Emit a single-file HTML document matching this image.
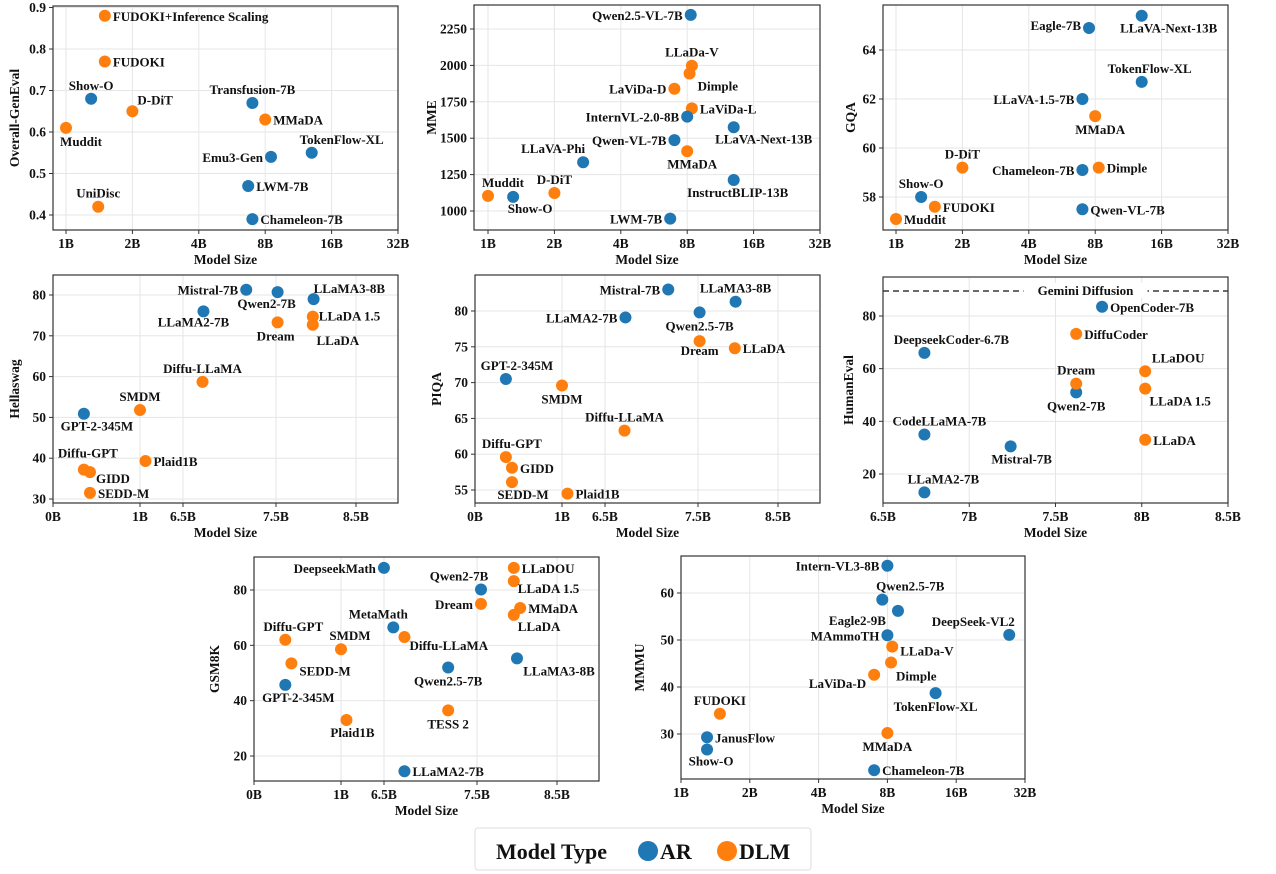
<!DOCTYPE html>
<html><head><meta charset="utf-8">
<style>
html,body{margin:0;padding:0;background:#fff;}
svg{display:block;font-family:"Liberation Serif",serif;font-weight:bold;}
</style></head>
<body>
<svg id="chart" width="1276" height="874" viewBox="0 0 1276 874" xmlns="http://www.w3.org/2000/svg">
<g>
<rect x="475" y="828" width="336" height="42" rx="3" fill="#fff" stroke="#ddd" stroke-width="1"/>
<text x="496" y="859" font-size="22" fill="#111">Model Type</text>
<circle cx="648" cy="851" r="10" fill="#1f77b4"/>
<text x="660" y="859" font-size="22" fill="#111">AR</text>
<circle cx="727" cy="851" r="10" fill="#ff7f0e"/>
<text x="739" y="859" font-size="22" fill="#111">DLM</text>
</g>
</svg>
<script>
// ---------- DATA ----------
const p1Names=["FUDOKI+Inference Scaling","FUDOKI","Show-O","D-DiT","Muddit","UniDisc","Transfusion-7B","MMaDA","Emu3-Gen","TokenFlow-XL","LWM-7B","Chameleon-7B"];
const p1Sizes=[1.5,1.5,1.3,2.0,1.0,1.4,7.0,8.0,8.5,13,6.7,7.0];
const p1Scores=[0.88,0.77,0.68,0.65,0.61,0.42,0.67,0.63,0.54,0.55,0.47,0.39];
const p1Types=["D","D","A","D","D","D","A","D","A","A","A","A"];
const p1YTicks=[0.4,0.5,0.6,0.7,0.8,0.9];

const p2Names=["Qwen2.5-VL-7B","LLaDa-V","Dimple","LaViDa-D","LaViDa-L","InternVL-2.0-8B","LLaVA-Next-13B","Qwen-VL-7B","MMaDA","LLaVA-Phi","InstructBLIP-13B","Muddit","Show-O","D-DiT","LWM-7B"];
const p2Sizes=[8.3,8.4,8.2,7.0,8.4,8.0,13,7.0,8.0,2.7,13,1.0,1.3,2.0,6.7];
const p2Scores=[2347,1998,1944,1840,1705,1648,1575,1487,1410,1335,1213,1104,1097,1124,948];
const p2Types=["A","D","D","D","D","A","A","A","D","A","A","D","A","D","A"];
const p2YTicks=[1000,1250,1500,1750,2000,2250];

const p3Names=["Eagle-7B","LLaVA-Next-13B","TokenFlow-XL","LLaVA-1.5-7B","MMaDA","D-DiT","Chameleon-7B","Dimple","Show-O","FUDOKI","Muddit","Qwen-VL-7B"];
const p3Sizes=[7.5,13,13,7.0,8.0,2.0,7.0,8.3,1.3,1.5,1.0,7.0];
const p3Scores=[64.9,65.4,62.7,62.0,61.3,59.2,59.1,59.2,58.0,57.6,57.1,57.5];
const p3Types=["A","A","A","A","D","D","A","D","A","D","D","A"];
const p3YTicks=[58,60,62,64];

const p4Names=["Mistral-7B","Qwen2-7B","LLaMA3-8B","LLaDA 1.5","Dream","LLaDA","LLaMA2-7B","Diffu-LLaMA","SMDM","GPT-2-345M","Diffu-GPT","Plaid1B","GIDD","SEDD-M"];
const p4Sizes=[7.18,7.52,7.97,7.96,7.52,7.96,6.72,6.71,1.0,0.355,0.355,1.7,0.425,0.425];
const p4Scores=[81.3,80.7,79.0,74.7,73.3,72.7,76.0,58.7,51.8,50.9,37.2,39.3,36.6,31.5];
const p4Types=["A","A","A","D","D","D","A","D","D","A","D","D","D","D"];
const p4YTicks=[30,40,50,60,70,80];

const p5Names=["Mistral-7B","LLaMA3-8B","Qwen2.5-7B","LLaMA2-7B","Dream","LLaDA","GPT-2-345M","SMDM","Diffu-LLaMA","Diffu-GPT","GIDD","SEDD-M","Plaid1B"];
const p5Sizes=[7.18,7.97,7.52,6.72,7.52,7.96,0.355,1.0,6.71,0.355,0.425,0.425,1.7];
const p5Scores=[83.0,81.3,79.8,79.1,75.8,74.8,70.5,69.6,63.3,59.6,58.1,56.1,54.5];
const p5Types=["A","A","A","A","D","D","A","D","D","D","D","D","D"];
const p5YTicks=[55,60,65,70,75,80];

const p6Names=["DeepseekCoder-6.7B","CodeLLaMA-7B","LLaMA2-7B","Mistral-7B","Qwen2-7B","Dream","DiffuCoder","OpenCoder-7B","LLaDOU","LLaDA 1.5","LLaDA"];
const p6Sizes=[6.74,6.74,6.74,7.24,7.62,7.62,7.62,7.77,8.02,8.02,8.02];
const p6Scores=[66,35,13,30.5,51,54.3,73.2,83.5,59,52.4,33];
const p6Types=["A","A","A","A","A","D","D","A","D","D","D"];
const p6YTicks=[20,40,60,80];
const p6XTicks=[6.5,7,7.5,8,8.5];
const p6Reference=89.5;

const p7Names=["DeepseekMath","Qwen2-7B","Dream","LLaDOU","LLaDA 1.5","MMaDA","LLaDA","MetaMath","Diffu-LLaMA","Diffu-GPT","SMDM","SEDD-M","GPT-2-345M","Plaid1B","Qwen2.5-7B","LLaMA3-8B","TESS 2","LLaMA2-7B"];
const p7Sizes=[6.49,7.55,7.55,7.96,7.96,8.04,7.96,6.6,6.72,0.36,1.0,0.43,0.36,1.7,7.19,8.0,7.19,6.72];
const p7Scores=[88,80.2,75,88,83.2,73.5,71,66.5,63,62,58.6,53.5,45.7,33,52,55.3,36.5,14.5];
const p7Types=["A","A","D","D","D","D","D","A","D","D","D","D","A","D","A","A","D","A"];
const p7YTicks=[20,40,60,80];

const p8Names=["Intern-VL3-8B","Qwen2.5-7B","Eagle2-9B","DeepSeek-VL2","MAmmoTH","LLaDa-V","Dimple","LaViDa-D","TokenFlow-XL","MMaDA","Chameleon-7B","FUDOKI","JanusFlow","Show-O"];
const p8Sizes=[8.0,7.6,8.9,27.3,8.0,8.4,8.3,7.0,13,8.0,7.0,1.48,1.3,1.3];
const p8Scores=[65.8,58.6,56.2,51.1,51,48.6,45.2,42.6,38.7,30.2,22.3,34.3,29.3,26.7];
const p8Types=["A","A","A","A","A","D","D","D","A","D","A","D","A","A"];
const p8YTicks=[30,40,50,60];

const logXTicks=[1,2,4,8,16,32];
const pieceXTicks=[0,1,6.5,7.5,8.5];

// ---------- LABEL PLACEMENT (style only) ----------
const R=[8,5,"start"],L=[-8,5,"end"],A=[0,-9,"middle"],B=[0,18,"middle"];
const p1Lab=[R,R,A,[5,-7,"start"],[15,18,"middle"],A,A,R,L,[30,-9,"middle"],R,R];
const p2Lab=[L,A,[8,17,"start"],L,R,L,[30,16,"middle"],L,[5,17,"middle"],[-30,-9,"middle"],[4,17,"middle"],[15,-9,"middle"],[17,16,"middle"],A,L];
const p3Lab=[[-8,2,"end"],[27,17,"middle"],[8,-9,"middle"],L,[5,18,"middle"],A,L,R,A,R,R,R];
const p4Lab=[L,[-11,16,"middle"],[0,-6,"start"],[6,4,"start"],[-2,18,"middle"],[25,20,"middle"],[-10,15,"middle"],A,A,[13,17,"middle"],[4,-12,"middle"],R,[6,11,"start"],R];
const p5Lab=[L,A,B,L,[0,14,"middle"],R,[11,-9,"middle"],B,A,[6,-9,"middle"],R,[11,17,"middle"],R];
const p6Lab=[[27,-9,"middle"],[15,-9,"middle"],[19,-9,"middle"],[11,17,"middle"],B,A,R,R,[33,-9,"middle"],[35,17,"middle"],R];
const p7Lab=[L,[-22,-9,"middle"],L,R,[4,12,"start"],R,[4,16,"start"],[-15,-9,"middle"],[5,13,"start"],[8,-9,"middle"],[9,-9,"middle"],[8,12,"start"],[13,17,"middle"],[6,17,"middle"],B,[42,17,"middle"],B,R];
const p8Lab=[L,[28,-9,"middle"],[-12,14,"end"],[-36,-9,"middle"],L,[8,9,"start"],[5,18,"start"],[-8,13,"end"],B,B,R,A,R,[4,16,"middle"]];

// ---------- DRAW ----------
const NS="http://www.w3.org/2000/svg";
const svg=document.getElementById("chart");
const COL={A:"#1f77b4",D:"#ff7f0e"};
function mk(tag,attrs,parent){const e=document.createElementNS(NS,tag);for(const k in attrs)e.setAttribute(k,attrs[k]);(parent||svg).appendChild(e);return e;}
function fmtB(v){return v+"B";}

function panel(cfg){
  const g=mk("g",{});
  
  
  const {l,r,t,b}=cfg.frame;
  let xs;
  if(cfg.xType==="log"){const x0=cfg.x1B!==undefined?cfg.x1B:l;const st=(r-x0)/5;xs=v=>x0+Math.log2(v)*st;}
  else if(cfg.xType==="piece"){const bp=[0,1,6.5,7.5,8.5],px=[0,87,130,223,303];
    xs=v=>{let i=0;while(i<bp.length-2&&v>bp[i+1])i++;return l+px[i]+(v-bp[i])/(bp[i+1]-bp[i])*(px[i+1]-px[i]);};}
  else {xs=v=>l+(v-6.5)/2*(r-l);}
  const ys=v=>cfg.y0px+(cfg.y0-v)*cfg.ypu;
  cfg.xTicks.forEach(v=>{const x=xs(v);
    const gl=mk("line",{x1:x,x2:x,y1:t,y2:b,stroke:"#e6e6e6","stroke-width":1},g);
    
    mk("line",{x1:x,x2:x,y1:b,y2:b+4,stroke:"#333","stroke-width":1},g);
    const tx=mk("text",{x:x,y:b+18,"font-size":13.5,"text-anchor":"middle",fill:"#111"},g);
    
    tx.textContent=fmtB(v);});
  cfg.yTicks.forEach(v=>{const y=ys(v);
    const gl=mk("line",{x1:l,x2:r,y1:y,y2:y,stroke:"#e6e6e6","stroke-width":1},g);
    
    mk("line",{x1:l-4,x2:l,y1:y,y2:y,stroke:"#333","stroke-width":1},g);
    const tx=mk("text",{x:l-7,y:y+4.5,"font-size":13.5,"text-anchor":"end",fill:"#111"},g);
    
    tx.textContent=cfg.yFmt?cfg.yFmt(v):String(v);});
  if(cfg.ref!==undefined){const y=ys(cfg.ref);
    const ln=mk("line",{x1:l,x2:r,y1:y,y2:y,stroke:"#111","stroke-width":1.3,"stroke-dasharray":"6,4"},g);
    
    mk("rect",{x:(l+r)/2+30-62,y:y-8,width:124,height:15,fill:"#fff"},g);
    const tx=mk("text",{x:(l+r)/2+30,y:y+4,"font-size":13,"text-anchor":"middle",fill:"#111"},g);
    
    tx.textContent="Gemini Diffusion";}
  const fr=mk("rect",{x:l,y:t,width:r-l,height:b-t,fill:"none",stroke:"#333","stroke-width":1.2},g);
  
  cfg.names.forEach((n,i)=>{const x=xs(cfg.sizes[i]),y=ys(cfg.scores[i]);
    const c=mk("circle",{cx:x,cy:y,r:6,fill:COL[cfg.types[i]]},g);
    
    
    const lb=cfg.lab[i];
    const tx=mk("text",{x:x+lb[0],y:y+lb[1],"font-size":13,"text-anchor":lb[2],fill:"#111"},g);
    
    
    tx.textContent=n;});
  const xt=mk("text",{x:(l+r)/2,y:b+34,"font-size":13.5,"text-anchor":"middle",fill:"#111"},g);
  
  xt.textContent="Model Size";
  const yc=(t+b)/2,yx=cfg.yTitleX;
  const yt=mk("text",{x:yx,y:yc,"font-size":13.5,"text-anchor":"middle",fill:"#111",transform:`rotate(-90 ${yx} ${yc})`},g);
  
  yt.textContent=cfg.yTitle;
}

panel({id:"geneval-panel",frame:{l:53,r:398,t:6,b:230},xType:"log",x1B:66,xTicks:logXTicks,yTicks:p1YTicks,y0:0.9,y0px:7.5,ypu:415,yFmt:v=>v.toFixed(1),names:p1Names,sizes:p1Sizes,scores:p1Scores,types:p1Types,lab:p1Lab,yTitle:"Overall-GenEval",yTitleX:19});
panel({id:"mme-panel",frame:{l:474,r:820,t:5,b:230},xType:"log",x1B:488,xTicks:logXTicks,yTicks:p2YTicks,y0:2250,y0px:29,ypu:0.1456,names:p2Names,sizes:p2Sizes,scores:p2Scores,types:p2Types,lab:p2Lab,yTitle:"MME",yTitleX:436});
panel({id:"gqa-panel",frame:{l:883,r:1228,t:5,b:230},xType:"log",x1B:896,xTicks:logXTicks,yTicks:p3YTicks,y0:64,y0px:50,ypu:24.5,names:p3Names,sizes:p3Sizes,scores:p3Scores,types:p3Types,lab:p3Lab,yTitle:"GQA",yTitleX:855});
panel({id:"hellaswag-panel",frame:{l:53,r:398,t:275,b:503},xType:"piece",xTicks:pieceXTicks,yTicks:p4YTicks,y0:80,y0px:295,ypu:4.08,names:p4Names,sizes:p4Sizes,scores:p4Scores,types:p4Types,lab:p4Lab,yTitle:"Hellaswag",yTitleX:19});
panel({id:"piqa-panel",frame:{l:475,r:820,t:275,b:503},xType:"piece",xTicks:pieceXTicks,yTicks:p5YTicks,y0:80,y0px:311,ypu:7.16,names:p5Names,sizes:p5Sizes,scores:p5Scores,types:p5Types,lab:p5Lab,yTitle:"PIQA",yTitleX:441});
panel({id:"humaneval-panel",frame:{l:883,r:1228,t:277,b:503},xType:"lin",xTicks:p6XTicks,yTicks:p6YTicks,y0:80,y0px:316,ypu:2.633,ref:p6Reference,names:p6Names,sizes:p6Sizes,scores:p6Scores,types:p6Types,lab:p6Lab,yTitle:"HumanEval",yTitleX:853});
panel({id:"gsm8k-panel",frame:{l:254,r:599,t:557,b:781},xType:"piece",xTicks:pieceXTicks,yTicks:p7YTicks,y0:80,y0px:590,ypu:2.767,names:p7Names,sizes:p7Sizes,scores:p7Scores,types:p7Types,lab:p7Lab,yTitle:"GSM8K",yTitleX:219});
panel({id:"mmmu-panel",frame:{l:681,r:1025,t:556,b:779},xType:"log",x1B:681,xTicks:logXTicks,yTicks:p8YTicks,y0:60,y0px:593,ypu:4.7,names:p8Names,sizes:p8Sizes,scores:p8Scores,types:p8Types,lab:p8Lab,yTitle:"MMMU",yTitleX:644});
</script>
</body></html>
